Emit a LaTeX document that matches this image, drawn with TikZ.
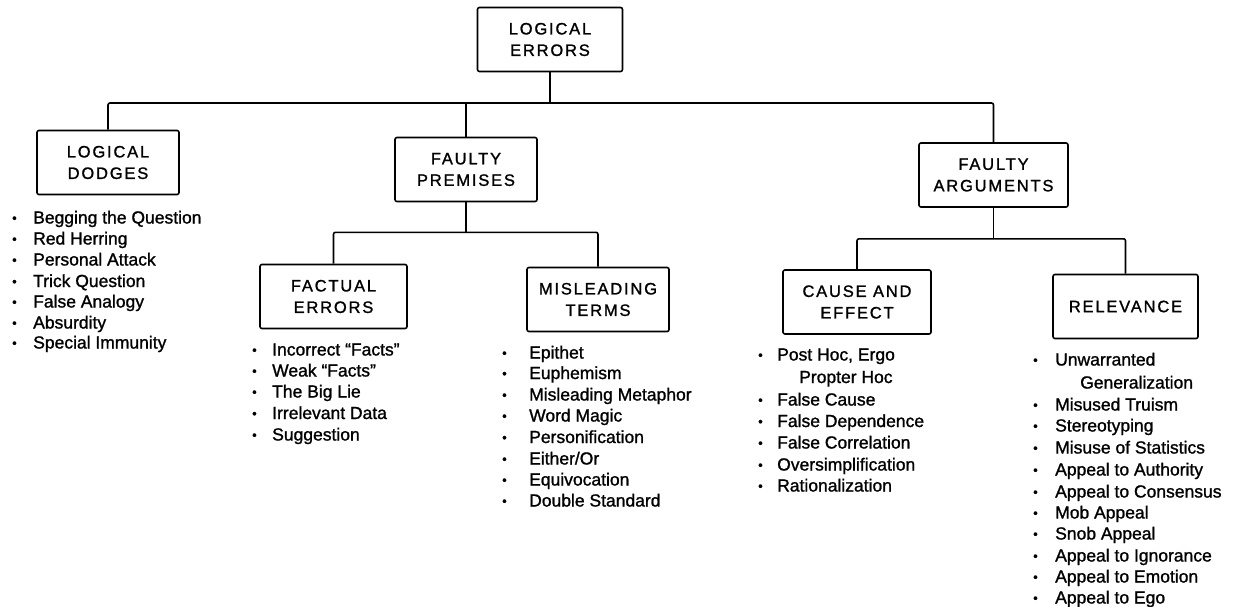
\documentclass[tikz,border=0pt]{standalone}
\usepackage{fontspec}
\setmainfont[FakeBold=1.2]{Liberation Sans}
\newfontfamily\capsfont[LetterSpace=11,FakeBold=1.2]{Liberation Sans}
\newcommand{\dotmark}{\raisebox{1pt}{\fontsize{13}{13}\selectfont\textbullet}}
\newcommand{\bul}[1]{\makebox[#1][l]{\dotmark}}

\tikzset{
  cat/.style={draw, line width=1.6pt, rounded corners=2pt, minimum width=145pt,
    minimum height=64pt, inner sep=2pt, align=center,
    font=\capsfont\fontsize{16.5}{21.5}\selectfont},
  link/.style={line width=1.6pt, rounded corners=2pt},
  item/.style={anchor=base west, inner sep=0pt, font=\fontsize{17.5}{21}\selectfont},
}

\begin{document}
\begin{tikzpicture}[x=1pt,y=-1pt]
\useasboundingbox (0,0) rectangle (1239,607);

% category boxes
\node[cat] (root) at (550,39.5) {LOGICAL\\ERRORS};
\node[cat,minimum width=142pt] (dodges) at (108,162.5) {LOGICAL\\DODGES};
\node[cat,minimum width=142pt] (premises) at (466,169.5) {FAULTY\\PREMISES};
\node[cat,minimum width=149pt] (arguments) at (993.5,175) {FAULTY\\ARGUMENTS};
\node[cat,minimum width=147pt] (factual) at (333.5,296.5) {FACTUAL\\ERRORS};
\node[cat,minimum width=142pt] (misleading) at (598,299.5) {MISLEADING\\TERMS};
\node[cat,minimum width=148pt] (cause) at (857,302) {CAUSE AND\\EFFECT};
\node[cat] (relevance) at (1125.5,306.5) {RELEVANCE};

% tree lines
\coordinate (bus1) at (550,103);
\draw[link] (root) -- (bus1);
\draw[link] (dodges.north) |- (bus1) -| (arguments.north);
\draw[link] (premises.north) -- (premises.north |- bus1);

\path (premises.south) ++(0,30) coordinate (bus2);
\draw[link] (premises) -- (bus2);
\draw[link] (factual.north) |- (bus2) -| (misleading.north);

\path (arguments.south) ++(0,31) coordinate (bus3);
\draw[link] (arguments) -- (bus3);
\draw[link] (cause.north) |- (bus3) -| (relevance.north);

% lists
\foreach \y/\t [count=\i] in {223.5/Begging the Question, 244.5/Red Herring,
    265.5/Personal Attack, 287/Trick Question, 307.5/False Analogy,
    328.5/Absurdity, 348.5/Special Immunity}
  \node[item] (dodge\i) at (12,\y) {\bul{21pt}\t};

\foreach \y/\t [count=\i] in {355.5/Incorrect ``Facts'', 376.5/Weak ``Facts'',
    397.5/The Big Lie, 419/Irrelevant Data, 440.5/Suggestion}
  \node[item] (fact\i) at (252,\y) {\bul{20pt}\t};

\foreach \y/\t [count=\i] in {358.5/Epithet, 379/Euphemism,
    400.5/Misleading Metaphor, 421.5/Word Magic, 443/Personification,
    464.5/Either\slash Or, 485.5/Equivocation, 506.5/Double Standard}
  \node[item] (term\i) at (502,\y) {\bul{27pt}\t};

\foreach \y/\t [count=\i] in {360.5/{Post Hoc, Ergo}, 405.5/False Cause,
    427/False Dependence, 448.5/False Correlation,
    470.5/Oversimplification, 491.5/Rationalization}
  \node[item] (cause\i) at (758,\y) {\bul{19pt}\t};
\node[item] (cause-cont) at (799,383) {Propter Hoc};

\foreach \y/\t [count=\i] in {365.5/Unwarranted, 410.5/Misused Truism,
    431.5/Stereotyping, 453.5/Misuse of Statistics,
    475.5/Appeal to Authority, 497.5/Appeal to Consensus,
    518.5/Mob Appeal, 539.5/Snob Appeal, 561.5/Appeal to Ignorance,
    582.5/Appeal to Emotion, 603.5/Appeal to Ego}
  \node[item] (rel\i) at (1033,\y) {\bul{22pt}\t};
\node[item] (rel-cont) at (1080,388.5) {Generalization};
\end{tikzpicture}
\end{document}
